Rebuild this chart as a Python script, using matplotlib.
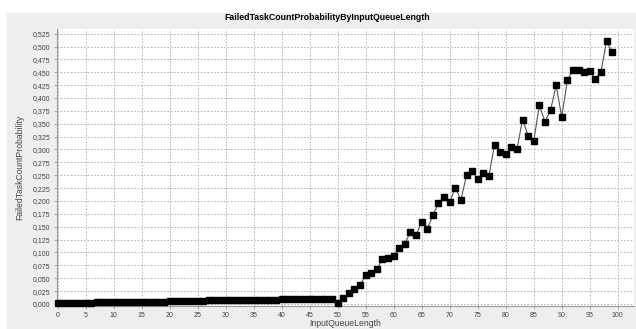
import matplotlib
matplotlib.use('Agg')
import matplotlib.pyplot as plt
from matplotlib.patches import Rectangle
from matplotlib.ticker import FuncFormatter, MultipleLocator

# 入力キュー長ごとの失敗タスク確率
queue_length = list(range(100))
failed_prob = [
    0.002, 0.002, 0.002, 0.002, 0.002, 0.002, 0.002,
    0.003, 0.003, 0.003, 0.003, 0.003, 0.003, 0.003,
    0.004, 0.004, 0.004, 0.004, 0.004, 0.004,
    0.005, 0.005, 0.005, 0.005, 0.005, 0.005, 0.005,
    0.007, 0.007, 0.007, 0.007, 0.007, 0.007, 0.007,
    0.008, 0.008, 0.008, 0.008, 0.008, 0.008,
    0.010, 0.010, 0.010, 0.010, 0.010, 0.010, 0.010, 0.010, 0.010, 0.010,
    0.001, 0.011, 0.022, 0.029, 0.037, 0.056, 0.060, 0.067, 0.088, 0.089,
    0.094, 0.109, 0.117, 0.140, 0.133, 0.160, 0.146, 0.172, 0.196, 0.208,
    0.198, 0.226, 0.202, 0.250, 0.258, 0.242, 0.255, 0.249, 0.309, 0.296,
    0.291, 0.305, 0.300, 0.358, 0.327, 0.316, 0.386, 0.354, 0.376, 0.425,
    0.363, 0.434, 0.455, 0.455, 0.451, 0.453, 0.436, 0.451, 0.510, 0.489,
]

W, H = 636, 329
plt.rcParams['font.family'] = ['Liberation Sans', 'DejaVu Sans']

fig = plt.figure(figsize=(W / 100, H / 100), dpi=100, facecolor='white')
# チャート背景（グレーのパネル）
fig.patches.append(Rectangle((7 / W, 0), 1, 1 - 13 / H, transform=fig.transFigure,
                             facecolor='#EEEEEE', edgecolor='none', zorder=-1))

left, right, top, bottom = 57, 634, 29, 305.5
ax = fig.add_axes([left / W, 1 - bottom / H, (right - left) / W, (bottom - top) / H])
ax.set_facecolor('white')

ax.plot(queue_length, failed_prob, color='#555555', linewidth=0.8,
        marker='s', markersize=3.8, markerfacecolor='black', markeredgecolor='black',
        clip_on=False, zorder=3)

ax.set_xlim(-0.1, 102.9)
ax.set_ylim(-0.003, 0.534)
ax.xaxis.set_major_locator(MultipleLocator(5))
ax.yaxis.set_major_locator(MultipleLocator(0.025))
ax.yaxis.set_major_formatter(FuncFormatter(lambda v, p: f'{v:.3f}'.replace('.', ',')))

ax.grid(True, color='#AAAAAA', linestyle=(0, (2, 2)), linewidth=0.6)
ax.set_axisbelow(True)
for side in ['top', 'right']:
    ax.spines[side].set_visible(False)
for side in ['left', 'bottom']:
    ax.spines[side].set_color('#999999')
    ax.spines[side].set_linewidth(0.8)

ax.tick_params(axis='both', labelsize=5, colors='#999999', labelcolor='#444444',
               length=2, width=0.6, pad=3)

ax.set_xlabel('InputQueueLength', fontsize=6.2, color='#444444', labelpad=-0.5)
ax.set_ylabel('FailedTaskCountProbability', fontsize=6.2, color='#444444', labelpad=6)

fig.text(327 / W, 1 - 17.5 / H, 'FailedTaskCountProbabilityByInputQueueLength',
         ha='center', va='center', fontsize=6.3, fontweight='bold', color='black')

plt.savefig('out.png', dpi=100, facecolor='white')
